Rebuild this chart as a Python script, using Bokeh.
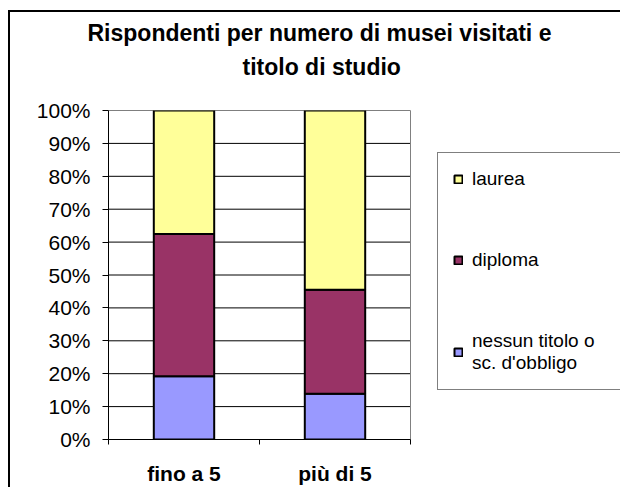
from bokeh.plotting import figure
from bokeh.layouts import column
from bokeh.models import (ColumnDataSource, Range1d, FixedTicker, NumeralTickFormatter,
                          Legend, LegendItem, Title)
from bokeh.embed import file_html
from bokeh.resources import INLINE

# ---- data ----
categories = ["fino a 5", "più di 5"]
series_labels = ["nessun titolo o\nsc. d'obbligo", "diploma", "laurea"]
nessun = [0.192, 0.139]
diploma = [0.433, 0.316]
laurea = [0.375, 0.545]
y_ticks = [0.0, 0.1, 0.2, 0.3, 0.4, 0.5, 0.6, 0.7, 0.8, 0.9, 1.0]
colors = ["#9999FF", "#993366", "#FFFF99"]
title_lines = ["Rispondenti per numero di musei visitati e", "titolo di studio"]

FONT = "Liberation Sans"

n = len(categories)
x_pos = [i + 0.5 for i in range(n)]
bounds = [i for i in range(n + 1)]
source = ColumnDataSource(dict(x=x_pos, nessun=nessun, diploma=diploma, laurea=laurea))

# frame spans plot area + legend area; plot area = first 302 px (151 px per category)
FRAME_W = 512
CAT_PX = 151
p = figure(width=610, height=475,
           x_range=Range1d(0, FRAME_W / CAT_PX), y_range=Range1d(0, 1),
           output_backend="svg", toolbar_location=None,
           min_border_left=98, min_border_right=0,
           min_border_top=98, min_border_bottom=48)
p.background_fill_color = "white"
p.border_fill_color = "white"
p.outline_line_color = None
p.xgrid.grid_line_color = None
p.ygrid.grid_line_color = None

# horizontal gridlines limited to the plot area
p.segment(x0=[bounds[0]] * len(y_ticks), x1=[bounds[-1]] * len(y_ticks),
          y0=y_ticks, y1=y_ticks, line_color="black", line_width=1)
# plot-area border (grey)
p.quad(left=[bounds[0]], right=[bounds[-1]], bottom=[y_ticks[0]], top=[y_ticks[-1]],
       fill_color=None, line_color="#808080", line_width=1)

renderers = p.vbar_stack(["nessun", "diploma", "laurea"], x="x", width=0.4, source=source,
                         fill_color=colors, line_color="black", line_width=2)

# y axis
p.yaxis.ticker = FixedTicker(ticks=y_ticks)
p.yaxis.formatter = NumeralTickFormatter(format="0%")
p.yaxis.axis_line_color = "black"
p.yaxis.major_tick_line_color = "black"
p.yaxis.major_tick_out = 6
p.yaxis.major_tick_in = 0
p.yaxis.minor_tick_line_color = None
p.yaxis.major_label_text_font = FONT
p.yaxis.major_label_text_font_size = "21px"
p.yaxis.major_label_text_color = "black"
p.yaxis.major_label_standoff = 12

# x axis
p.xaxis.bounds = (bounds[0], bounds[-1])
p.xaxis.ticker = FixedTicker(ticks=x_pos, minor_ticks=bounds)
p.xaxis.major_label_overrides = {x: c for x, c in zip(x_pos, categories)}
p.xaxis.axis_line_color = "black"
p.xaxis.major_tick_line_color = None
p.xaxis.major_tick_out = 0
p.xaxis.minor_tick_line_color = "black"
p.xaxis.minor_tick_out = 5
p.xaxis.minor_tick_in = 0
p.xaxis.major_label_text_font = FONT
p.xaxis.major_label_text_font_size = "21px"
p.xaxis.major_label_text_font_style = "bold"
p.xaxis.major_label_text_color = "black"
p.xaxis.major_label_standoff = 17

# titles: nearest to frame first
spacer = Title(text=" ", text_font=FONT, text_font_size="23px", standoff=0)
t2 = Title(text=title_lines[1], align="left", offset=134, text_font=FONT,
           text_font_size="23px", text_font_style="bold", text_color="black", standoff=6)
t1 = Title(text=title_lines[0], align="left", offset=-21, text_font=FONT,
           text_font_size="23px", text_font_style="bold", text_color="black", standoff=6)
p.add_layout(spacer, "above")
p.add_layout(t2, "above")
p.add_layout(t1, "above")

# legend (inside the frame, right of the plot area)
items = [LegendItem(label=series_labels[i], renderers=[renderers[i]]) for i in (2, 1, 0)]
legend = Legend(items=items, location=(329, 49), orientation="vertical",
                border_line_color="black", border_line_width=1,
                background_fill_color="white", background_fill_alpha=1,
                label_text_font=FONT, label_text_font_size="19px", label_text_color="black",
                label_text_line_height=1.35,
                glyph_width=10, glyph_height=10, label_height=22, label_width=170,
                label_standoff=9, spacing=59, padding=15, margin=0)
p.add_layout(legend, "center")

layout = column(p, styles={"border-left": "2px solid black", "border-top": "2px solid black",
                           "margin-left": "8px", "margin-top": "10px"})

open("out.html", "w").write(file_html(layout, INLINE))
